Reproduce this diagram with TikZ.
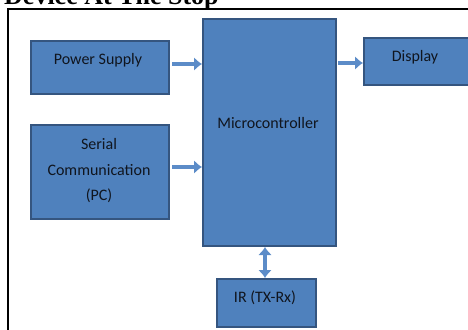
\documentclass[tikz,border=0pt]{standalone}
\usepackage{fontspec}
\setmainfont{Carlito}
\newfontfamily\titlefont{Liberation Serif}
\usetikzlibrary{arrows.meta}
\definecolor{boxfill}{HTML}{4F81BD}
\definecolor{boxedge}{HTML}{35557F}
\definecolor{arrowblue}{HTML}{5C8CC8}
\definecolor{labeltext}{HTML}{10151E}
\tikzset{
  blockbox/.style={draw=boxedge, line width=2pt, fill=boxfill, inner sep=0pt, anchor=north west},
  boxlabel/.style={font=\fontsize{16}{25.5}\selectfont, text=labeltext, align=center, inner sep=0pt},
  flow/.style={draw=arrowblue, line width=4.5pt, -{Latex[length=8pt,width=14pt]}},
  biflow/.style={draw=arrowblue, line width=4.5pt, {Latex[length=8pt,width=14pt]}-{Latex[length=8pt,width=14pt]}}
}
\begin{document}
\begin{tikzpicture}[x=1pt, y=-1pt]
  \useasboundingbox (0,0) rectangle (468,329);
  \clip (0,0) rectangle (468,329);
  % heading, partly cut off by the page edge
  \node[anchor=base west, inner sep=0pt, font=\titlefont\bfseries\fontsize{26}{28}\selectfont] (title) at (4,5) {Device At The Stop};
  % outer frame
  \draw[line width=2pt] (7.5,340) -- (7.5,9.5) -- (480,9.5);
  % blocks
  \node[blockbox, minimum width=138pt, minimum height=53pt] (ps) at (30,40) {};
  \node[blockbox, minimum width=138pt, minimum height=94pt] (sc) at (30,124) {};
  \node[blockbox, minimum width=133pt, minimum height=227pt] (mc) at (202,18) {};
  \node[blockbox, minimum width=130pt, minimum height=47pt] (dp) at (363,37) {};
  \node[blockbox, minimum width=99pt, minimum height=48pt] (ir) at (216,278) {};
  % block labels
  \node[boxlabel] (psl) at (98,60) {Power Supply};
  \node[boxlabel] (scl) at (99,171) {Serial\\Communication\\(PC)};
  \node[boxlabel] (mcl) at (268,123) {Microcontroller};
  \node[boxlabel] (dpl) at (415,57) {Display};
  \node[boxlabel] (irl) at (265,298) {IR (TX-Rx)};
  % connections
  \draw[flow] (ps.east |- 0,64) ++(2,0) coordinate (a1) -- (mc.west |- a1);
  \draw[flow] (sc.east |- 0,167) ++(2,0) coordinate (a2) -- (mc.west |- a2);
  \draw[flow] (mc.east |- 0,63) ++(1,0) coordinate (a3) -- (dp.west |- a3);
  \draw[biflow] (mc.south -| 265,0) coordinate (a4) -- (ir.north -| a4);
\end{tikzpicture}
\end{document}
